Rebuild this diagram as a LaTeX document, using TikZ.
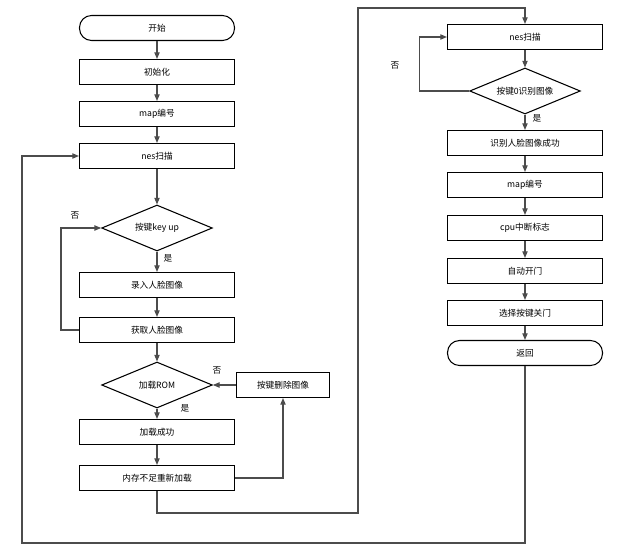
\documentclass[tikz,border=0pt]{standalone}
\usepackage{fontspec}
\setmainfont{Noto Sans CJK SC}
\usetikzlibrary{shapes.geometric,arrows.meta}
\begin{document}
\begin{tikzpicture}[x=0.75pt,y=-0.75pt,
 font=\fontsize{6.5}{8}\selectfont,
 box/.style={draw,thick,minimum width=116.25pt,minimum height=18.75pt,inner sep=0pt},
 term/.style={box,rounded corners=9pt},
 dia/.style={draw,thick,diamond,aspect=2.4,minimum width=83pt,minimum height=34.5pt,inner sep=0pt},
 ln/.style={draw=black!70,thick},
 ar/.style={ln,-{Triangle[length=5pt,width=4pt]}}]
\useasboundingbox (0,0) rectangle (624,556);
\node[term] (s) at (157,28) {开始};
\node[box] (a1) at (157,72) {初始化};
\node[box] (a2) at (157,114) {map编号};
\node[box] (a3) at (157,156) {nes扫描};
\node[dia] (d1) at (157,228) {按键key up};
\node[box] (a4) at (157,285) {录入人脸图像};
\node[box] (a5) at (157,330) {获取人脸图像};
\node[dia] (d2) at (157,385) {加载ROM};
\node[box,minimum width=70pt] (del) at (283,385) {按键删除图像};
\node[box] (a6) at (157,432) {加载成功};
\node[box] (a7) at (157,478) {内存不足重新加载};
\node[box] (b1) at (525,37) {nes扫描};
\node[dia] (d3) at (525,91) {按键0识别图像};
\node[box] (b2) at (525,143) {识别人脸图像成功};
\node[box] (b3) at (525,185) {map编号};
\node[box] (b4) at (525,228) {cpu中断标志};
\node[box] (b5) at (525,271) {自动开门};
\node[box] (b6) at (525,313) {选择按键关门};
\node[term] (ret) at (525,353) {返回};
\foreach \p/\q in {s/a1,a1/a2,a2/a3,a3/d1,d1/a4,a4/a5,a5/d2,d2/a6,a6/a7,b1/d3,d3/b2,b2/b3,b3/b4,b4/b5,b5/b6,b6/ret}
 \draw[ar] (\p) -- (\q);
\draw[ar] (a5.west) -- ++(-18,0) |- (d1.west);
\draw[ar] (del.west) -- (d2.east);
\draw[ar] (a7.east) -| (del.south);
\draw[ar] (d3.west) -- ++(-50,0) |- (b1.west);
\coordinate (c1) at (358,513);
\coordinate (c2) at (358,8);
\draw[ar] (a7.south) |- (c1) -- (c2) -| (b1.north);
\coordinate (c3) at (22,543);
\draw[ar] (ret.south) |- (c3) |- (a3.west);
\node at (75,215) {否};
\node at (168,258) {是};
\node at (217,370) {否};
\node at (185,408) {是};
\node at (395,65) {否};
\node at (537,118) {是};
\end{tikzpicture}
\end{document}
